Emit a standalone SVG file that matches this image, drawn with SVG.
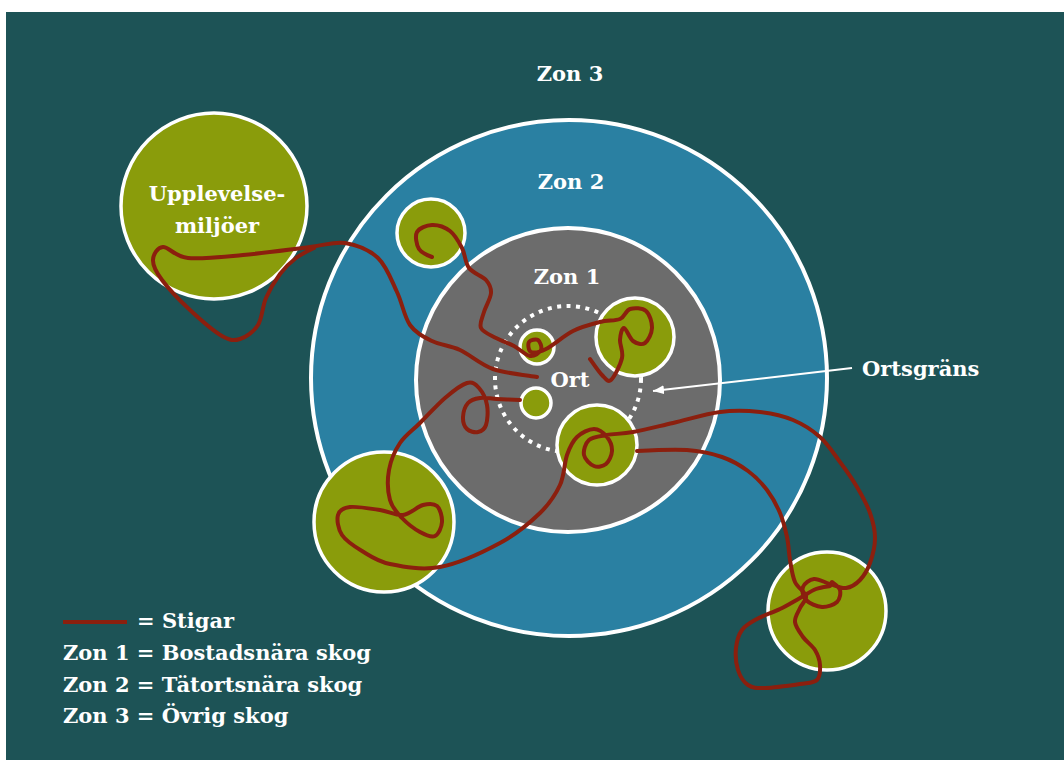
<svg xmlns="http://www.w3.org/2000/svg" width="1064" height="760" viewBox="0 0 1064 760">
<style>
.lbl{font-family:"DejaVu Serif","Liberation Serif",serif;font-weight:bold;fill:#ffffff;font-size:21px}
.mid{text-anchor:middle}
.forest{fill:#8a9c0b;stroke:#ffffff;stroke-width:3.5}
.trail{fill:none;stroke:#8b1f0e;stroke-width:4;stroke-linecap:round;stroke-linejoin:round}
</style>
<defs>
<marker id="arr" markerUnits="userSpaceOnUse" markerWidth="12" markerHeight="10" refX="11" refY="5" orient="auto">
<path d="M0,0.5 L11,5 L0,9.5 z" fill="#ffffff"/>
</marker>
</defs>
<rect x="0" y="0" width="1064" height="760" fill="#ffffff"/>
<rect x="6" y="12" width="1058" height="748" fill="#1d5356"/>

<g id="zon2"><circle cx="569" cy="378" r="258" fill="#2a80a2" stroke="#ffffff" stroke-width="4"/></g>
<g id="zon1"><circle cx="568" cy="380" r="152" fill="#6c6c6c" stroke="#ffffff" stroke-width="4"/></g>
<g id="ortsgrans-ring"><circle cx="568" cy="379" r="73" fill="none" stroke="#ffffff" stroke-width="4" stroke-dasharray="4 5.5"/></g>

<g id="upplevelse"><circle class="forest" cx="214" cy="206" r="93"/></g>
<g id="f-top"><circle class="forest" cx="431" cy="233" r="34"/></g>
<g id="f-ort1"><circle class="forest" cx="537" cy="347" r="17"/></g>
<g id="f-ort2"><circle class="forest" cx="536" cy="403" r="15"/></g>
<g id="f-right"><circle class="forest" cx="635" cy="337" r="39"/></g>
<g id="f-bottom"><circle class="forest" cx="597" cy="445" r="40"/></g>
<g id="f-left"><circle class="forest" cx="384" cy="522" r="70"/></g>
<g id="f-far"><circle class="forest" cx="827" cy="611" r="59"/></g>

<g id="connectors">
<path class="trail" d="M314,248 S301.7,253.7 296,258 S285,267.3 280,274 S269.7,289.5 266,298 S262.3,318.2 258,325 S246,337.2 240,339 S230.3,340.8 222,336 S200,319.3 190,310 S168.2,288.3 162,280 S152.8,265.5 153,260 S157.2,247.3 163,247 S174.7,256.7 188,258 S222.7,256.8 243,255 S293,249 310,247 S333.7,241.2 345,243 S369.3,249.8 378,258 S391.7,280.8 397,292 S404.2,316.8 410,325 S423.7,336.8 432,341 S449.8,345.3 460,350 S480.2,364.5 493,369 S529.7,375.7 537,377"/>
<path class="trail" d="M432,257 S421.5,253.2 419,249 S414.8,236 417,232 S426.5,225.2 432,225 S445,227.2 450,231 S458.8,241.8 462,248 S465,262.7 469,268 S482.3,275.8 486,280 S491.3,287.7 491,293 S485.7,306.2 484,312 S479,323.7 481,328 S490.5,335 496,338 S508.3,343 514,346 S525.5,355.3 530,356 S539.7,352.7 541,350 S540,341.3 538,340 S530.2,340 529,342 S528.2,350.8 531,352 S539,352.5 546,349 S564,335.5 573,331 S592.2,324 600,322 S615,321.2 620,319 S625.7,310.3 630,309 S642.3,307.8 646,311 S652.2,322.7 652,328 S648.2,340.8 645,343 S636.5,343.5 633,341 S626.2,328.2 624,328 S620.3,335 620,340 S623.5,351.3 622,358 S614.3,377.2 611,380 S605.5,378.5 602,375 S592,361.7 590,359"/>
<path class="trail" d="M520,400 S503.7,399.3 497,399 S484.8,397.3 480,398 S470.8,399.8 468,403 S463.2,412.7 463,417 S464.5,426.5 467,429 S474.8,432.7 478,432 S484.5,429.5 486,425 S488.2,411.2 487,405 S482.3,391.7 479,388 S472.7,381.3 467,383 S452.8,391.3 445,398 S427.5,415.5 420,423 S405.2,435.2 400,443 S390.7,460.5 389,470 S387.8,492 390,500 S397,512.7 402,518 S414.5,529 420,532 S431.3,537.7 435,536 S441.7,527 442,522 S440.2,508.8 437,506 S428.7,503.5 423,505 S410.2,514.2 403,515 S388.8,511.3 380,510 S357,506.2 350,507 S339.3,510.3 338,515 S338,529 342,535 S354,546.2 362,551 S377,561.3 390,564 S421.7,570.5 440,567 S483.3,552 500,543 S530,522.7 540,513 S555.5,494.7 560,485 S564.2,463 567,455 S572.5,441.3 577,437 S589,429 594,429 S604,433.3 607,437 S612.2,446.5 612,451 S609,461.5 606,464 S597.7,467.5 594,466 S584.8,459.3 584,455 S585.2,443.3 589,440 S599.7,436.3 607,435 S622,434 633,432 S658.5,426.3 673,423 S705.5,413.8 720,412 S747.8,410.7 760,412 S783,415.8 793,420 S812.2,430 820,437 S833.8,453.7 840,462 S852,478.5 857,487 S867,504.5 870,513 S875,529.7 875,538 S872.5,556 870,563 S864,575.8 860,580 S851,587.3 846,588 S835.3,585.5 830,584 S818.5,578.5 814,579 S804.3,583.5 803,587 S802.8,596.7 806,600 S816.8,606.7 822,607 S834,604.8 837,602 S840.8,593.3 840,590 S833.3,583.3 832,582"/>
<path class="trail" d="M637,451 S672.8,449 687,450 S711.8,453.5 722,457 S740.5,465.5 748,471 S761.7,483 767,490 S776.7,505.2 780,513 S785.3,529.2 787,537 S788.7,552.5 790,560 S792.3,576 795,582 S805.2,591.7 806,596 S801.8,603.7 800,608 S794.5,617.2 795,622 S799.7,632.3 803,637 S812.2,645.3 815,650 S819.7,660 820,665 S820.3,676.8 817,680 S808.7,682.7 800,684 S773.7,687.8 765,688 S752.5,688 748,685 S740,676.2 738,670 S735.3,654.7 736,648 S738.5,634.8 742,630 S750.7,622.5 757,619 S772.8,612.5 780,609 S794,601.3 800,598 S811,591 816,589 S827.7,586.5 830,586"/>
<line x1="852" y1="368" x2="653" y2="391" stroke="#ffffff" stroke-width="2" marker-end="url(#arr)"/>
</g>

<g id="labels">
<text class="lbl mid" x="570" y="81">Zon 3</text>
<text class="lbl mid" x="571" y="189">Zon 2</text>
<text class="lbl mid" x="567" y="284">Zon 1</text>
<text class="lbl mid" x="570" y="387">Ort</text>
<text class="lbl" x="862" y="376">Ortsgräns</text>
<text class="lbl mid" x="217" y="201">Upplevelse-</text>
<text class="lbl mid" x="217" y="233">miljöer</text>
</g>

<g id="legend">
<line x1="63" y1="622" x2="127" y2="622" stroke="#8b1f0e" stroke-width="4"/>
<text class="lbl" x="137" y="628">= Stigar</text>
<text class="lbl" x="63" y="660">Zon 1 = Bostadsnära skog</text>
<text class="lbl" x="63" y="692">Zon 2 = Tätortsnära skog</text>
<text class="lbl" x="63" y="723">Zon 3 = Övrig skog</text>
</g>
</svg>
